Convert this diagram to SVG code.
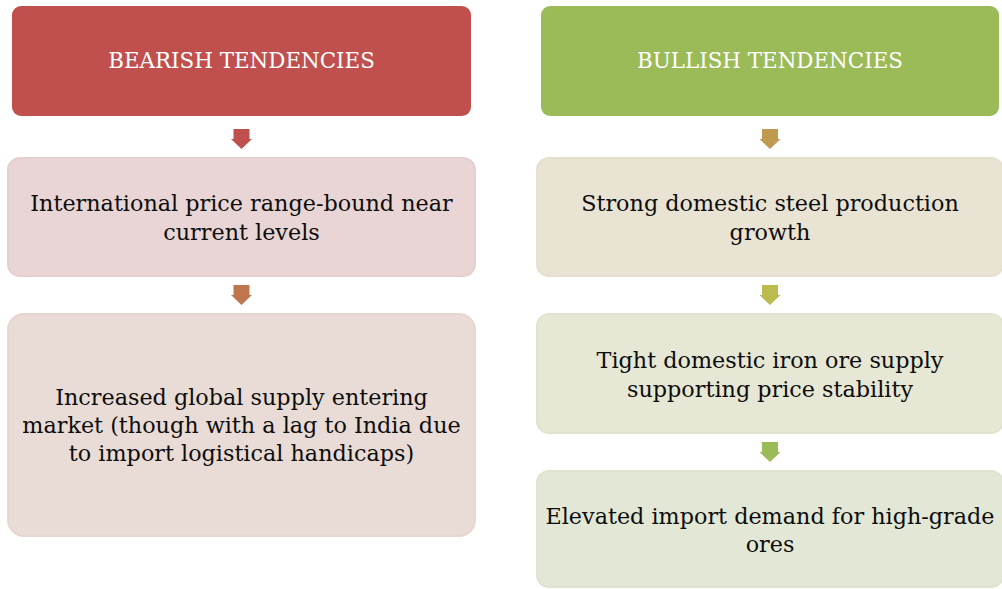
<svg xmlns="http://www.w3.org/2000/svg" width="1002" height="589" viewBox="0 0 1002 589">
  <defs>
    <style>
      .hdr { font-family: "DejaVu Serif", "Liberation Serif", serif; font-size: 21.4px; fill: #FFFFFF; text-anchor: middle; }
      .txt { font-family: "DejaVu Serif", "Liberation Serif", serif; font-size: 22.3px; fill: #0D0D0D; text-anchor: middle; }
      .box { stroke-width: 2; }
    </style>
    <!-- down arrow shape centred on x=0, top at y=0 -->
    <path id="down" d="M -8 0 H 8 V 10 H 10.5 L 0 20 L -10.5 10 H -8 Z"/>
  </defs>

  <rect width="1002" height="589" fill="#FFFFFF"/>

  <!-- Bearish column -->
  <g id="bearish-header">
    <rect x="12" y="6" width="459" height="110" rx="9" fill="#C0504D"/>
    <text class="hdr" x="241.5" y="68">BEARISH TENDENCIES</text>
  </g>
  <g id="bearish-price">
    <rect class="box" x="8" y="158" width="467" height="118" rx="12" fill="#E9D5D5" stroke="#E6CFCF"/>
    <text class="txt" x="241.5" y="211">International price range-bound near</text>
    <text class="txt" x="241.5" y="240">current levels</text>
  </g>
  <g id="bearish-supply">
    <rect class="box" x="8" y="314" width="467" height="222" rx="16" fill="#E9DBD5" stroke="#E7D6CF"/>
    <text class="txt" x="241.5" y="405">Increased global supply entering</text>
    <text class="txt" x="241.5" y="433">market (though with a lag to India due</text>
    <text class="txt" x="241.5" y="461">to import logistical handicaps)</text>
  </g>

  <!-- Bullish column -->
  <g id="bullish-header">
    <rect x="541" y="6" width="458" height="110" rx="9" fill="#9BBB59"/>
    <text class="hdr" x="770" y="68">BULLISH TENDENCIES</text>
  </g>
  <g id="bullish-steel">
    <rect class="box" x="537" y="158" width="466" height="118" rx="12" fill="#E9E3D4" stroke="#E6DFCE"/>
    <text class="txt" x="770" y="211">Strong domestic steel production</text>
    <text class="txt" x="770" y="240">growth</text>
  </g>
  <g id="bullish-ore">
    <rect class="box" x="537" y="314" width="466" height="119" rx="12" fill="#E6E7D4" stroke="#E2E3CE"/>
    <text class="txt" x="770" y="368">Tight domestic iron ore supply</text>
    <text class="txt" x="770" y="397">supporting price stability</text>
  </g>
  <g id="bullish-imports">
    <rect class="box" x="537" y="471" width="466" height="116" rx="12" fill="#E2E8D5" stroke="#DEE4CF"/>
    <text class="txt" x="770" y="524">Elevated import demand for high-grade</text>
    <text class="txt" x="770" y="552">ores</text>
  </g>

  <!-- Connectors -->
  <g id="connectors">
    <use href="#down" x="241.5" y="129" fill="#C0504D"/>
    <use href="#down" x="241.5" y="285" fill="#C0764D"/>
    <use href="#down" x="770" y="129" fill="#C09A4E"/>
    <use href="#down" x="770" y="285" fill="#BBBB4F"/>
    <use href="#down" x="770" y="442" fill="#9BBB59"/>
  </g>
</svg>
